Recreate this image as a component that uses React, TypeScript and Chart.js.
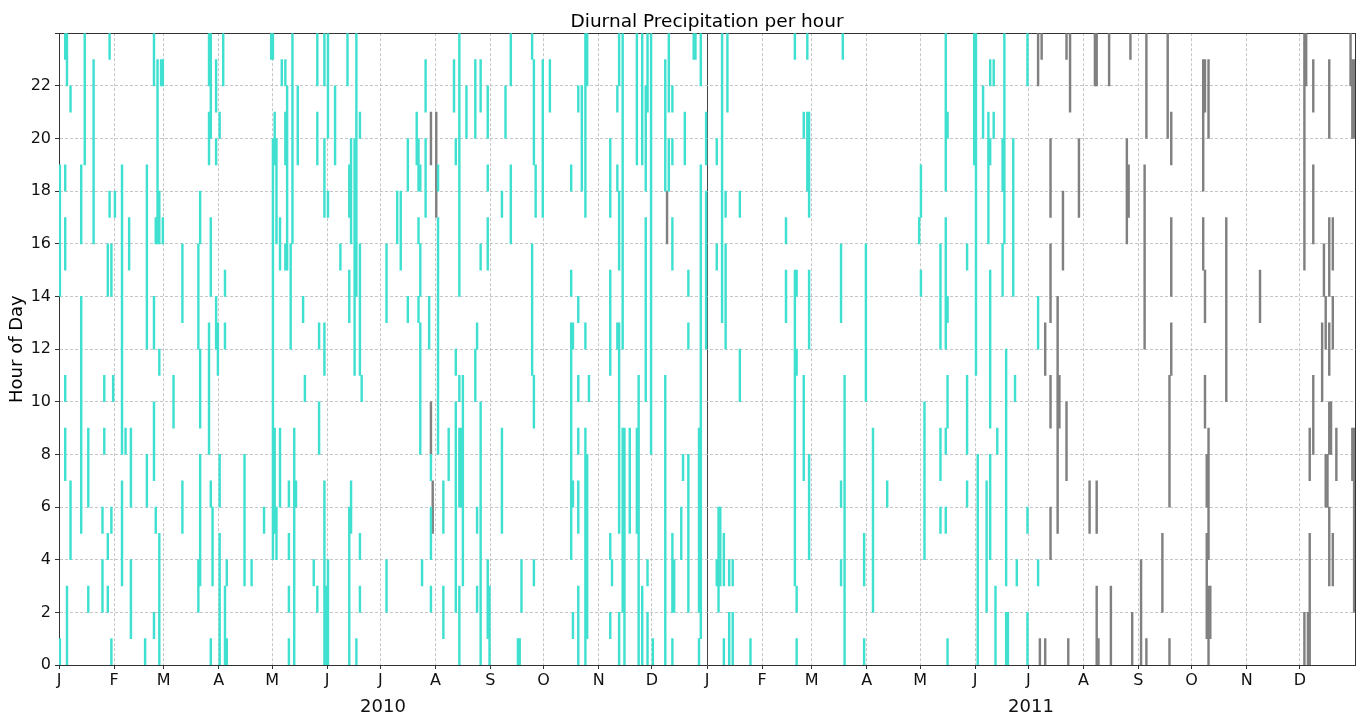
import React, { useEffect, useRef } from 'react';
import { Chart, registerables } from 'chart.js';

Chart.register(...registerables);

// Each span is [day index counted from 1 Jan 2010, first hour, last hour]
type Span = [number, number, number];

const FONT = "'DejaVu Sans', 'Liberation Sans', sans-serif";

const totalDays = 730;
const monthStarts = [0, 31, 59, 90, 120, 151, 181, 212, 243, 273, 304, 334, 365, 396, 424, 455, 485, 516, 546, 577, 608, 638, 669, 699];
const monthLabels = ['J', 'F', 'M', 'A', 'M', 'J', 'J', 'A', 'S', 'O', 'N', 'D', 'J', 'F', 'M', 'A', 'M', 'J', 'J', 'A', 'S', 'O', 'N', 'D'];
const yearLabels = ['2010', '2011'];
const yearCentres = [182.5, 547.5];
const yearBoundaries = [365];

// Hours with measured precipitation, 2010
const rain2010: Span[] = [
  [0, 14, 19], [0, 0, 1], [3, 23, 24], [3, 18, 19], [3, 15, 17], [3, 10, 11], [3, 7, 9], [4, 22, 24], [4, 0, 3],
  [6, 21, 22], [6, 4, 7], [12, 16, 19], [12, 5, 14], [14, 19, 24], [16, 6, 9], [16, 2, 3], [19, 16, 23],
  [24, 5, 6], [24, 2, 4], [25, 10, 11], [25, 8, 9], [27, 14, 16], [27, 4, 5], [27, 2, 3], [28, 23, 24], [28, 17, 18],
  [29, 14, 16], [29, 5, 6], [29, 0, 1], [30, 10, 11], [31, 17, 18], [35, 8, 19], [35, 3, 7], [37, 8, 9], [39, 15, 17],
  [40, 6, 9], [40, 1, 4], [48, 0, 1], [49, 12, 19], [49, 6, 8], [53, 22, 24], [53, 12, 14], [53, 7, 10], [53, 1, 2],
  [54, 16, 17], [54, 5, 6], [55, 16, 23], [56, 16, 18], [56, 11, 12], [56, 0, 5], [57, 22, 23], [58, 22, 23], [58, 16, 17],
  [64, 9, 11], [69, 13, 16], [69, 5, 7], [78, 12, 16], [78, 2, 4], [79, 16, 18], [79, 9, 12], [79, 3, 8],
  [84, 22, 24], [84, 19, 21], [84, 8, 13], [85, 22, 24], [85, 20, 22], [85, 14, 17], [85, 6, 7], [85, 0, 1], [86, 3, 6],
  [88, 21, 23], [88, 19, 20], [88, 12, 14], [89, 11, 13], [90, 20, 21], [90, 6, 8], [90, 0, 5], [92, 22, 24],
  [93, 14, 15], [93, 12, 13], [93, 0, 3], [94, 3, 4], [94, 0, 1], [104, 3, 8], [108, 3, 4], [115, 5, 6], [119, 23, 24],
  [120, 23, 24], [120, 4, 20], [121, 19, 21], [121, 5, 9], [122, 16, 20], [122, 4, 6], [124, 15, 17], [124, 6, 9],
  [125, 22, 23], [127, 22, 23], [127, 19, 21], [127, 15, 16], [128, 15, 22], [129, 6, 7], [129, 4, 5], [129, 2, 3], [129, 0, 1],
  [130, 12, 16], [131, 16, 24], [132, 0, 9], [133, 6, 7], [134, 19, 22], [137, 13, 14], [138, 10, 11], [143, 3, 4],
  [145, 22, 24], [145, 19, 21], [145, 2, 3], [146, 12, 13], [146, 8, 10], [149, 22, 24], [149, 17, 20], [149, 11, 13], [149, 0, 7],
  [150, 0, 3], [151, 20, 24], [151, 17, 18], [151, 0, 4], [155, 19, 22], [158, 15, 16], [162, 22, 24],
  [163, 17, 19], [163, 13, 15], [163, 0, 6], [164, 16, 20], [164, 5, 7], [166, 11, 20], [167, 14, 24], [167, 0, 1],
  [169, 20, 21], [169, 11, 16], [169, 4, 5], [169, 2, 3], [170, 10, 11], [184, 13, 16], [184, 2, 4], [190, 16, 18],
  [192, 15, 18], [196, 18, 20], [196, 13, 14], [201, 19, 21], [202, 18, 20], [202, 16, 17], [202, 13, 14],
  [203, 18, 19], [203, 14, 16], [203, 8, 13], [204, 3, 4], [206, 21, 23], [206, 17, 20], [208, 12, 14],
  [209, 7, 8], [209, 4, 6], [209, 2, 3], [213, 18, 19], [213, 8, 17], [216, 5, 7], [216, 1, 3], [219, 7, 9], [222, 21, 23],
  [223, 19, 20], [223, 11, 12], [223, 2, 10], [225, 14, 24], [225, 10, 11], [225, 6, 9], [225, 0, 3], [226, 6, 9], [227, 3, 11],
  [229, 20, 22], [234, 20, 23], [234, 10, 12], [235, 12, 13], [235, 5, 6], [235, 2, 3], [237, 21, 23], [237, 15, 16], [237, 0, 10],
  [241, 20, 22], [241, 18, 19], [241, 15, 17], [241, 1, 4], [242, 0, 3], [249, 17, 18], [249, 5, 9], [251, 20, 22],
  [254, 22, 24], [254, 16, 19], [258, 0, 1], [259, 0, 1], [260, 2, 4], [266, 23, 24], [266, 11, 16],
  [267, 19, 23], [267, 9, 11], [267, 3, 4], [268, 17, 19], [272, 17, 23], [276, 21, 23],
  [288, 18, 19], [288, 14, 15], [288, 4, 13], [289, 12, 13], [289, 6, 7], [289, 1, 2],
  [292, 21, 22], [292, 13, 14], [292, 10, 11], [292, 8, 9], [292, 5, 7], [292, 0, 3], [294, 18, 22],
  [296, 17, 24], [296, 12, 13], [296, 0, 9], [297, 22, 24], [297, 1, 8], [298, 10, 11],
  [310, 17, 20], [310, 11, 15], [310, 4, 5], [310, 1, 2], [311, 3, 4], [314, 21, 22], [314, 18, 19], [314, 12, 13],
  [315, 22, 24], [315, 15, 18], [315, 5, 13], [315, 0, 2], [317, 20, 24], [317, 12, 20], [317, 2, 9], [318, 0, 9],
  [321, 5, 9], [325, 19, 24], [325, 5, 9], [326, 5, 11], [326, 0, 5], [328, 19, 24], [328, 0, 3],
  [330, 18, 22], [330, 10, 17], [331, 21, 24], [331, 3, 4], [331, 0, 2], [333, 18, 24], [333, 8, 18], [334, 0, 1],
  [341, 18, 23], [341, 0, 11], [343, 21, 24], [343, 18, 20], [345, 21, 22], [345, 19, 20], [345, 15, 17], [345, 2, 5], [345, 0, 1],
  [346, 2, 4], [350, 4, 6], [351, 7, 8], [352, 19, 21], [354, 14, 15], [354, 12, 13], [354, 2, 8], [357, 23, 24], [358, 23, 24],
  [360, 2, 9], [360, 0, 1], [361, 22, 24], [361, 1, 19], [364, 19, 21], [364, 12, 18],
];

// Hours with measured precipitation, 2011
const rain2011: Span[] = [
  [370, 19, 20], [370, 15, 16], [370, 3, 4], [371, 2, 6], [372, 3, 6], [373, 13, 24], [374, 3, 5], [374, 0, 1],
  [375, 17, 18], [375, 12, 16], [376, 21, 24], [377, 3, 4], [377, 0, 2], [379, 3, 4], [379, 0, 2], [383, 17, 18], [383, 10, 12],
  [389, 0, 1], [409, 16, 17], [409, 13, 15], [414, 23, 24], [414, 3, 15], [415, 14, 15], [415, 11, 12], [415, 2, 3], [415, 0, 1],
  [419, 20, 21], [419, 7, 11], [421, 23, 24], [421, 18, 21], [422, 17, 21], [422, 12, 15], [422, 4, 8],
  [440, 13, 16], [440, 6, 7], [440, 3, 4], [441, 23, 24], [442, 0, 11], [453, 3, 5], [453, 0, 1], [454, 10, 16], [458, 2, 9],
  [466, 6, 7], [484, 16, 17], [485, 17, 19], [485, 14, 15], [487, 4, 10],
  [496, 12, 16], [496, 7, 9], [496, 5, 6], [499, 18, 24], [499, 12, 17], [499, 8, 9], [499, 5, 6],
  [500, 20, 21], [500, 13, 14], [500, 9, 11], [500, 0, 1], [511, 15, 16], [511, 8, 11], [511, 6, 7],
  [515, 19, 24], [516, 11, 24], [517, 0, 8], [520, 20, 22], [522, 2, 7], [523, 16, 21],
  [524, 22, 23], [524, 19, 20], [524, 9, 15], [524, 4, 8], [526, 22, 23], [526, 20, 21], [527, 0, 3], [528, 8, 9],
  [531, 18, 20], [531, 14, 16], [532, 16, 24], [533, 3, 12], [533, 0, 2], [534, 0, 2], [537, 14, 20], [538, 10, 11], [539, 3, 4],
  [545, 22, 24], [545, 5, 6], [545, 0, 2], [551, 12, 14], [551, 3, 4],
];

// Hours with flagged (grey) records
const flagged2010: Span[] = [
  [209, 19, 21], [209, 8, 10], [210, 5, 7], [212, 17, 21], [342, 16, 18],
];

const flagged2011: Span[] = [
  [551, 22, 24], [552, 0, 1], [553, 23, 24], [555, 11, 13], [555, 0, 1],
  [558, 17, 20], [558, 13, 16], [558, 9, 11], [558, 4, 6], [562, 5, 14], [563, 9, 11], [565, 15, 18],
  [567, 23, 24], [567, 7, 10], [568, 0, 1], [569, 21, 24], [574, 17, 20], [580, 5, 7], [583, 22, 24],
  [584, 22, 24], [584, 5, 7], [584, 0, 3], [585, 0, 1], [591, 22, 24], [592, 0, 3],
  [601, 16, 20], [602, 17, 19], [603, 23, 24], [604, 0, 2], [609, 0, 4], [611, 12, 19], [612, 20, 24], [612, 0, 1],
  [621, 2, 5], [624, 20, 24], [625, 6, 11], [625, 0, 1], [626, 19, 21], [626, 14, 17], [626, 11, 13],
  [644, 21, 23], [644, 18, 21], [644, 15, 17], [645, 21, 23], [645, 13, 15], [645, 9, 11],
  [646, 6, 8], [646, 1, 5], [647, 20, 23], [647, 4, 9], [647, 0, 3], [648, 1, 3], [657, 10, 17], [676, 13, 15],
  [701, 15, 24], [701, 0, 2], [702, 22, 24], [703, 0, 2], [704, 7, 9], [704, 0, 5],
  [706, 21, 23], [706, 16, 19], [706, 8, 11], [711, 10, 13], [712, 14, 16], [713, 12, 14], [713, 6, 8], [714, 6, 8],
  [715, 20, 23], [715, 14, 17], [715, 11, 13], [715, 8, 10], [715, 3, 6], [716, 8, 10], [717, 15, 17], [717, 12, 14], [717, 3, 5],
  [719, 7, 9], [727, 22, 24], [728, 20, 23], [728, 7, 9], [729, 20, 23], [729, 2, 9],
];

// Bars are centred on the middle of their day
const toBars = (spans: Span[]) => spans.map(([day, from, to]) => ({ x: day + 0.5, y: [from, to] }));

export default function App() {
  const canvasRef = useRef<HTMLCanvasElement | null>(null);

  useEffect(() => {
    const canvas = canvasRef.current;
    if (!canvas) return;

    const tickFont = { family: FONT, size: 16 };
    const gridColor = '#b8b8b8';
    const axisColor = '#333333';

    const chart = new Chart(canvas, {
      type: 'bar',
      data: {
        datasets: [
          {
            label: 'Precipitation',
            data: toBars([...rain2010, ...rain2011]) as any,
            backgroundColor: '#40E0D0',
            borderWidth: 0,
            grouped: false,
            barPercentage: 1,
            categoryPercentage: 1,
            xAxisID: 'x',
            yAxisID: 'y',
          },
          {
            label: 'Flagged',
            data: toBars([...flagged2010, ...flagged2011]) as any,
            backgroundColor: '#808080',
            borderWidth: 0,
            grouped: false,
            barPercentage: 1,
            categoryPercentage: 1,
            xAxisID: 'x',
            yAxisID: 'y',
          },
        ],
      },
      options: {
        animation: false,
        responsive: false,
        devicePixelRatio: 1,
        layout: { padding: { left: 0, right: 8, top: 0, bottom: 0 } },
        plugins: {
          legend: { display: false },
          tooltip: { enabled: false },
          title: {
            display: true,
            fullSize: false,
            text: 'Diurnal Precipitation per hour',
            color: '#000',
            font: { family: FONT, size: 18.5, weight: 'normal' },
            padding: { top: 11, bottom: 0 },
          },
        },
        scales: {
          x: {
            type: 'linear',
            axis: 'x',
            position: 'bottom',
            min: 0,
            max: totalDays,
            offset: false,
            grid: {
              offset: false,
              color: gridColor,
              lineWidth: 0.8,
              drawTicks: true,
              tickLength: 4,
              tickColor: axisColor,
              tickWidth: 1,
              tickBorderDash: [],
            },
            border: { display: true, color: axisColor, width: 1, dash: [3, 2] },
            ticks: {
              autoSkip: false,
              maxRotation: 0,
              minRotation: 0,
              padding: 2,
              color: '#111',
              font: tickFont,
              callback: (value: any) => {
                const i = monthStarts.indexOf(Number(value));
                return i >= 0 ? monthLabels[i] : '';
              },
            },
            afterBuildTicks: (scale: any) => {
              scale.ticks = monthStarts.map((v) => ({ value: v }));
            },
            afterFit: (scale: any) => {
              scale.height = 26;
            },
          },
          xYear: {
            type: 'linear',
            axis: 'x',
            position: 'bottom',
            min: 0,
            max: totalDays,
            offset: false,
            grid: { display: false, drawTicks: false, offset: false },
            border: { display: false },
            ticks: {
              autoSkip: false,
              maxRotation: 0,
              minRotation: 0,
              padding: 6,
              color: '#111',
              font: { family: FONT, size: 18 },
              callback: (value: any) => {
                const i = yearCentres.indexOf(Number(value));
                return i >= 0 ? yearLabels[i] : '';
              },
            },
            afterBuildTicks: (scale: any) => {
              scale.ticks = yearCentres.map((v) => ({ value: v }));
            },
            afterFit: (scale: any) => {
              scale.height = 29;
            },
          },
          xBoundary: {
            type: 'linear',
            axis: 'x',
            position: 'bottom',
            min: 0,
            max: totalDays,
            offset: false,
            grid: { display: true, drawTicks: false, offset: false, color: '#444444', lineWidth: 1 },
            border: { display: false },
            ticks: { display: false },
            afterBuildTicks: (scale: any) => {
              scale.ticks = yearBoundaries.map((v) => ({ value: v }));
            },
            afterFit: (scale: any) => {
              scale.height = 0;
            },
          },
          xTop: {
            type: 'linear',
            axis: 'x',
            position: 'top',
            min: 0,
            max: totalDays,
            grid: { display: false, drawTicks: false },
            border: { display: true, color: axisColor, width: 1 },
            ticks: { display: false },
            afterFit: (scale: any) => {
              scale.height = 0;
            },
          },
          y: {
            type: 'linear',
            axis: 'y',
            position: 'left',
            min: 0,
            max: 24,
            grid: {
              color: gridColor,
              lineWidth: 0.8,
              drawTicks: true,
              tickLength: 4,
              tickColor: axisColor,
              tickWidth: 1,
              tickBorderDash: [],
            },
            border: { display: true, color: axisColor, width: 1, dash: [3, 2] },
            ticks: {
              stepSize: 2,
              padding: 4,
              color: '#111',
              font: tickFont,
              callback: (value: any) => (Number(value) >= 24 ? '' : String(value)),
            },
            title: {
              display: true,
              text: 'Hour of Day',
              color: '#000',
              font: { family: FONT, size: 18 },
              padding: { top: 7, bottom: 0 },
            },
            afterFit: (scale: any) => {
              scale.width = 59;
            },
          },
          yRight: {
            type: 'linear',
            axis: 'y',
            position: 'right',
            min: 0,
            max: 24,
            grid: { display: false, drawTicks: false },
            border: { display: true, color: axisColor, width: 1 },
            ticks: { display: false },
            afterFit: (scale: any) => {
              scale.width = 0;
            },
          },
        },
      } as any,
    });

    return () => {
      chart.destroy();
    };
  }, []);

  return (
    <div style={{ position: 'fixed', left: 0, top: 0, width: 1363, height: 720, background: '#ffffff' }}>
      <canvas ref={canvasRef} width={1363} height={720} style={{ display: 'block' }} />
    </div>
  );
}
